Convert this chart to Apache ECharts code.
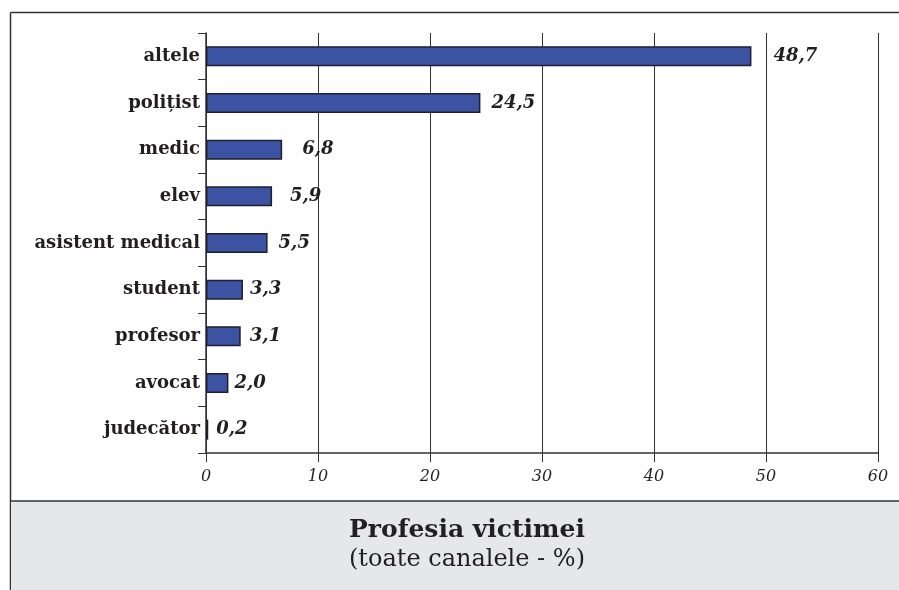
<!DOCTYPE html>
<html>
<head>
<meta charset="utf-8">
<style>
  html, body { margin: 0; padding: 0; background: #ffffff; }
  #chart { width: 899px; height: 590px; }
</style>
<script src="https://cdn.jsdelivr.net/npm/echarts@6/dist/echarts.min.js"></script>
</head>
<body>
<div id="chart"></div>
<script>
// Victim profession, share of all channels (%)
const categories = ['altele', 'polițist', 'medic', 'elev', 'asistent medical', 'student', 'profesor', 'avocat', 'judecător'];
const values = [48.7, 24.5, 6.8, 5.9, 5.5, 3.3, 3.1, 2.0, 0.2];
const xTicks = [0, 10, 20, 30, 40, 50, 60];

// gap (px) between each bar end and its value label
const labelGaps = [22, 11, 20, 18, 11, 7, 9, 6, 8];

const serif = '"DejaVu Serif", "Liberation Serif", serif';
const chart = echarts.init(document.getElementById('chart'), null, { renderer: 'canvas' });

const barData = values.map((v, i) => ({
  value: v,
  label: { distance: labelGaps[i] }
}));

chart.setOption({
  animation: false,
  backgroundColor: '#ffffff',
  graphic: [
    // outer frame (top and left edges)
    { type: 'line', shape: { x1: 10.5, y1: 12.5, x2: 899, y2: 12.5 }, style: { stroke: '#333', lineWidth: 1.5 }, z: 0 },
    { type: 'line', shape: { x1: 10.5, y1: 12.5, x2: 10.5, y2: 590 }, style: { stroke: '#333', lineWidth: 1.5 }, z: 0 },
    // caption panel
    { type: 'rect', shape: { x: 11, y: 501, width: 888, height: 89 }, style: { fill: '#e6e7e9' }, z: 0 },
    { type: 'line', shape: { x1: 10.5, y1: 501, x2: 899, y2: 501 }, style: { stroke: '#333', lineWidth: 1.5 }, z: 0 }
  ],
  title: {
    text: 'Profesia victimei',
    subtext: '(toate canalele - %)',
    left: 462, top: 513, textAlign: 'center',
    itemGap: 5,
    textStyle: { fontFamily: serif, fontWeight: 'bold', fontSize: 25, color: '#231f20' },
    subtextStyle: { fontFamily: serif, fontWeight: 'normal', fontSize: 24, color: '#231f20' }
  },
  grid: { left: 206, right: 21, top: 33, bottom: 137, containLabel: false },
  xAxis: {
    type: 'value',
    min: 0, max: 60, interval: 10,
    axisLine: { show: true, lineStyle: { color: '#333', width: 1.5 } },
    axisTick: { show: true, length: 9, lineStyle: { color: '#333', width: 1 } },
    splitLine: { show: true, lineStyle: { color: '#333', width: 1 } },
    axisLabel: {
      margin: 16,
      fontFamily: serif, fontStyle: 'italic', fontSize: 16, color: '#231f20',
      formatter: v => (xTicks.includes(v) ? String(v) : '')
    }
  },
  yAxis: {
    type: 'category',
    data: categories,
    inverse: true,
    axisLine: { show: true, lineStyle: { color: '#333', width: 1.5 } },
    axisTick: { show: true, length: 8, inside: false, lineStyle: { color: '#333', width: 1 } },
    splitLine: { show: false },
    axisLabel: {
      margin: 6,
      fontFamily: serif, fontWeight: 'bold', fontSize: 18, color: '#231f20'
    }
  },
  series: [{
    type: 'bar',
    data: barData,
    barWidth: 20,
    itemStyle: { color: '#3c52a3', borderColor: '#1f1f2e', borderWidth: 1.5 },
    label: {
      show: true, position: 'right',
      fontFamily: serif, fontWeight: 'bold', fontStyle: 'italic', fontSize: 18, color: '#231f20',
      formatter: p => p.value.toFixed(1).replace('.', ',')
    }
  }]
});
</script>
</body>
</html>
